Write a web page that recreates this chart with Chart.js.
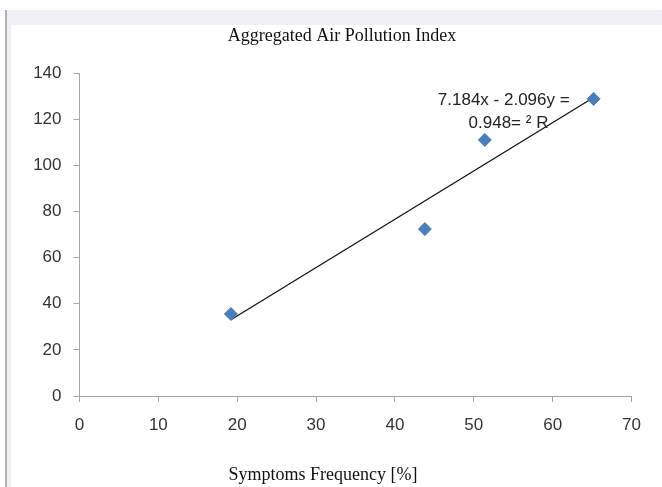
<!DOCTYPE html>
<html>
<head>
<meta charset="utf-8">
<script src="https://cdn.jsdelivr.net/npm/chart.js@4/dist/chart.umd.min.js"></script>
<style>
  html, body { margin: 0; padding: 0; background: #fff; }
  #wrap { width: 662px; height: 487px; }
</style>
</head>
<body>
<div id="wrap"><canvas id="chart" width="662" height="487"></canvas></div>
<script>
// values
const symptomsFreq = [19.2, 43.8, 51.4, 65.2];
const pollutionIndex = [35.6, 72.4, 111.1, 128.9];
const trendX = [19.2, 65.2];
const trendY = [33.1, 129.5];
const xTicks = [0, 10, 20, 30, 40, 50, 60, 70];
const yTicks = [0, 20, 40, 60, 80, 100, 120, 140];
const chartTitle = 'Aggregated Air Pollution Index';
const xTitle = 'Symptoms Frequency [%]';
const equationLines = ['7.184x - 2.096y =', '0.948= \u00b2 R'];

const axisGrey = '#a6a6a6';
const labelColor = '#333333';
const serif = '"Liberation Serif", "Times New Roman", serif';
const sans = '"Liberation Sans", Arial, sans-serif';

// grey frame band at top / left, like the exported sheet
const framePlugin = {
  id: 'frame',
  beforeDraw(chart) {
    const ctx = chart.ctx;
    ctx.save();
    ctx.fillStyle = '#ffffff';
    ctx.fillRect(0, 0, chart.width, chart.height);
    ctx.fillStyle = '#eff0f6';
    ctx.fillRect(6, 10, chart.width - 6, chart.height - 10);
    ctx.fillStyle = '#ffffff';
    ctx.fillRect(11, 25, chart.width - 11, chart.height - 25);
    ctx.strokeStyle = '#9a9a9a';
    ctx.lineWidth = 1.5;
    ctx.beginPath();
    ctx.moveTo(6, 10);
    ctx.lineTo(6, chart.height);
    ctx.stroke();
    ctx.restore();
  }
};

// titles (off-centre in the original) and trendline equation
const textPlugin = {
  id: 'texts',
  afterDraw(chart) {
    const {ctx, scales: {x, y}} = chart;
    ctx.save();
    ctx.textAlign = 'center';
    ctx.textBaseline = 'middle';
    ctx.fillStyle = '#111';
    ctx.font = '18px ' + serif;
    ctx.fillText(chartTitle, 342, 36);
    ctx.fillText(xTitle, 323, 475);
    ctx.font = '17px ' + sans;
    ctx.fillStyle = '#222';
    ctx.fillText(equationLines[0], x.getPixelForValue(53.8), y.getPixelForValue(128.4));
    ctx.fillText(equationLines[1], x.getPixelForValue(54.4), y.getPixelForValue(118.4));
    ctx.restore();
  }
};

new Chart(document.getElementById('chart').getContext('2d'), {
  type: 'scatter',
  data: {
    datasets: [
      {
        label: chartTitle,
        data: symptomsFreq.map((v, i) => ({ x: v, y: pollutionIndex[i] })),
        pointStyle: 'rectRot',
        pointRadius: 6.5,
        backgroundColor: '#4a7ebb',
        borderColor: '#4a7ebb',
        borderWidth: 1
      },
      {
        label: 'Trend',
        type: 'line',
        data: trendX.map((v, i) => ({ x: v, y: trendY[i] })),
        borderColor: '#111',
        borderWidth: 1.3,
        pointRadius: 0,
        fill: false
      }
    ]
  },
  options: {
    responsive: false,
    animation: false,
    layout: { padding: { left: 11, right: 30.5, top: 73.3, bottom: 0 } },
    plugins: {
      legend: { display: false },
      tooltip: { enabled: false },
      title: { display: false }
    },
    scales: {
      x: {
        type: 'linear',
        min: 0,
        max: 70,
        afterFit(scale) { scale.height = 91; },
        afterBuildTicks(scale) { scale.ticks = xTicks.map(v => ({ value: v })); },
        grid: { display: true, drawOnChartArea: false, drawTicks: true, tickLength: 6, color: axisGrey },
        border: { display: true, color: axisGrey, width: 1 },
        ticks: { color: labelColor, padding: 13, font: { family: sans, size: 17 } }
      },
      y: {
        type: 'linear',
        min: 0,
        max: 140,
        afterFit(scale) { scale.width = 68.5; },
        afterBuildTicks(scale) { scale.ticks = yTicks.map(v => ({ value: v })); },
        grid: { display: true, drawOnChartArea: false, drawTicks: true, tickLength: 6, color: axisGrey },
        border: { display: true, color: axisGrey, width: 1 },
        ticks: { color: labelColor, padding: 12, font: { family: sans, size: 17 } }
      }
    }
  },
  plugins: [framePlugin, textPlugin]
});
</script>
</body>
</html>
